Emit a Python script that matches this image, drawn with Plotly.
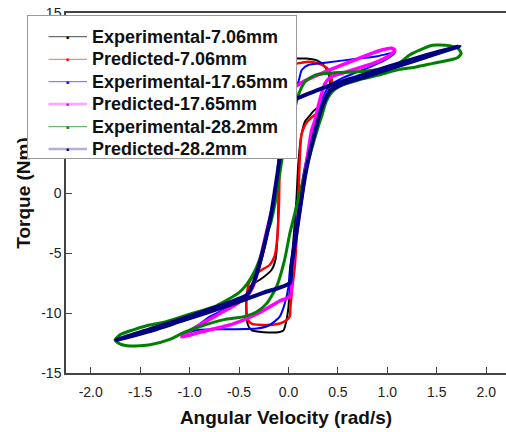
import plotly.graph_objects as go

# ---- data (x: angular velocity rad/s, y: torque Nm) ----
series_names = ["Experimental-7.06mm", "Predicted-7.06mm", "Experimental-17.65mm",
                "Predicted-17.65mm", "Experimental-28.2mm", "Predicted-28.2mm"]
series_colors = ["#000000", "#FF0000", "#0000FF", "#FF00FF", "#008000", "#000080"]
series_widths = [2, 2.5, 2, 3.5, 3, 4]

exp_706_x = [-0.02, 0.0, 0.013, 0.03, 0.055, 0.08, 0.1, 0.13, 0.17, 0.21, 0.25, 0.32, 0.39, 0.42, 0.41,
             0.37, 0.30, 0.18, 0.08, 0.0, -0.05, -0.08, -0.09, -0.095, -0.1, -0.11, -0.13, -0.17, -0.25,
             -0.34, -0.4, -0.425, -0.425, -0.41, -0.37, -0.25, -0.1, -0.05, -0.02]
exp_706_y = [-10.6, -9.5, -8.0, -6.0, -3.4, -0.6, 2.5, 4.8, 6.0, 6.4, 6.8, 7.3, 8.1, 9.0, 9.8,
             10.5, 11.0, 11.2, 11.2, 11.1, 10.6, 9.0, 6.0, 3.0, 0.0, -3.4, -5.5, -6.4, -7.0,
             -7.5, -7.9, -8.6, -10.0, -11.0, -11.45, -11.6, -11.6, -11.45, -10.6]

pre_706_x = [0.013, 0.02, 0.04, 0.064, 0.085, 0.1, 0.112, 0.13, 0.17, 0.22, 0.28, 0.33, 0.38, 0.42, 0.437,
             0.43, 0.39, 0.30, 0.20, 0.094, 0.0, -0.05, -0.075, -0.085, -0.09, -0.095, -0.11, -0.138,
             -0.19, -0.27, -0.35, -0.40, -0.42, -0.425, -0.41, -0.37, -0.22, -0.08, -0.02, 0.013]
pre_706_y = [-10.3, -9.5, -7.8, -6.1, -3.4, -0.6, 2.5, 4.8, 5.7, 6.2, 6.6, 7.1, 7.7, 8.5, 9.2,
             9.8, 10.4, 10.8, 10.94, 10.8, 10.6, 10.2, 8.5, 5.5, 2.5, -0.6, -3.4, -5.2,
             -6.0, -6.4, -6.9, -7.5, -8.5, -9.8, -10.6, -10.9, -11.0, -10.85, -10.6, -10.3]

exp_1765_x = [1.077, 1.0, 0.85, 0.7, 0.55, 0.42, 0.36, 0.31, 0.26, 0.2, 0.15, 0.114, 0.064, 0.013, 0.0,
              -0.037, -0.088, -0.19, -0.32, -0.6, -0.896, -1.0, -1.08, -1.0, -0.93, -0.795, -0.6, -0.45,
              -0.35, -0.29, -0.24, -0.19, -0.14, -0.12, -0.1, -0.07, -0.03, 0.03, 0.094, 0.134, 0.2,
              0.37, 0.707, 0.9, 1.077]
exp_1765_y = [11.7, 11.2, 10.6, 10.1, 9.6, 9.0, 8.2, 7.0, 5.5, 3.5, 1.5, -0.6, -3.4, -6.5, -7.8,
              -9.2, -10.3, -11.0, -11.3, -11.35, -11.4, -11.6, -11.83, -11.45, -11.1, -10.3, -9.5, -8.7,
              -7.6, -6.1, -4.5, -2.5, -0.6, 1.0, 3.0, 5.5, 7.8, 8.8, 9.14, 10.25, 10.67,
              10.86, 11.2, 11.4, 11.7]

pre_1765_x = [1.077, 1.01, 0.875, 0.707, 0.54, 0.437, 0.37, 0.336, 0.30, 0.27, 0.235, 0.2, 0.16, 0.13,
              0.08, 0.04, 0.03, 0.02, -0.09, -0.3, -0.56, -0.9, -1.0, -1.08, -1.02, -0.9, -0.75, -0.63,
              -0.5, -0.42, -0.35, -0.3, -0.26, -0.2, -0.14, -0.11, -0.09, -0.07, -0.03, 0.02, 0.094,
              0.168, 0.37, 0.55, 0.707, 0.909, 1.043, 1.077]
pre_1765_y = [11.9, 11.4, 10.86, 10.4, 9.97, 9.7, 9.14, 8.3, 7.2, 6.1, 5.25, 3.5, 1.2, -0.6,
              -3.4, -6.1, -7.5, -8.6, -9.0, -10.0, -10.9, -11.6, -11.85, -12.0, -11.6, -11.0, -10.3, -9.75,
              -9.1, -8.6, -7.6, -6.1, -4.6, -2.5, -0.6, 1.2, 3.0, 5.5, 7.5, 8.6, 9.0,
              9.36, 10.1, 10.7, 11.2, 11.83, 12.06, 11.9]

exp_282_x = [1.747, 1.713, 1.63, 1.495, 1.427, 1.326, 1.225, 1.124, 1.04, 0.909, 0.707, 0.47, 0.27, 0.168,
             0.10, 0.05, 0.0, -0.06, -0.09, -0.13, -0.18, -0.22, -0.27, -0.34, -0.42, -0.5, -0.73, -1.0,
             -1.23, -1.45, -1.57, -1.70, -1.755, -1.7, -1.6, -1.4, -1.2, -1.05, -0.85, -0.65, -0.45,
             -0.32, -0.22, -0.12, -0.04, 0.013, 0.064, 0.114, 0.165, 0.232, 0.30, 0.34, 0.38, 0.45,
             0.55, 0.7, 0.9, 1.124, 1.29, 1.46, 1.63, 1.713, 1.747]
exp_282_y = [11.64, 12.06, 12.28, 12.33, 12.25, 11.9, 11.5, 10.85, 10.55, 10.3, 10.1, 10.03, 9.83, 9.28,
             8.17, 6.5, 4.5, 3.0, 1.5, -0.6, -2.5, -3.4, -5.0, -6.5, -7.6, -8.3, -9.4, -10.1,
             -10.7, -11.1, -11.4, -11.8, -12.25, -12.6, -12.75, -12.65, -12.2, -11.6, -11.0, -10.55, -10.3,
             -9.9, -9.2, -7.8, -5.6, -3.4, -1.7, 0.0, 1.6, 3.6, 5.5, 6.5, 7.6, 8.5,
             9.0, 9.4, 9.8, 10.3, 10.5, 10.8, 11.08, 11.3, 11.64]

pre_282_x = [1.73, 1.4, 1.0, 0.7, 0.45, 0.3, 0.09, 0.0, -0.02, -0.04, -0.08, -0.13, -0.17, -0.22, -0.28,
             -0.34, -0.42, -0.56, -0.8, -1.1, -1.4, -1.74, -1.4, -1.1, -0.8, -0.5, -0.25, 0.013, 0.03,
             0.08, 0.13, 0.17, 0.22, 0.28, 0.34, 0.42, 0.55, 0.8, 1.1, 1.4, 1.73]
pre_282_y = [12.25, 11.5, 10.5, 9.7, 9.05, 8.6, 7.9, 7.6, 7.2, 6.1, 3.4, 0.58, -1.5, -3.5, -5.5,
             -7.2, -8.5, -9.0, -9.7, -10.55, -11.35, -12.25, -11.5, -10.7, -9.9, -9.05, -8.3, -7.5, -6.1,
             -3.4, -0.58, 1.5, 3.5, 5.5, 7.2, 8.5, 9.1, 9.75, 10.55, 11.35, 12.25]

series_x = [exp_706_x, pre_706_x, exp_1765_x, pre_1765_x, exp_282_x, pre_282_x]
series_y = [exp_706_y, pre_706_y, exp_1765_y, pre_1765_y, exp_282_y, pre_282_y]

x_tick_vals = [-2.0, -1.5, -1.0, -0.5, 0.0, 0.5, 1.0, 1.5, 2.0]
x_tick_text = ["-2.0", "-1.5", "-1.0", "-0.5", "0.0", "0.5", "1.0", "1.5", "2.0"]
y_tick_vals = [-15, -10, -5, 0, 5, 10, 15]
y_tick_text = ["-15", "-10", "-5", "0", "5", "10", "15"]

FONT = "Arial, Liberation Sans, sans-serif"

# plot-area geometry (pixels) used for placing the hand-built legend
L, T, W, H = 66, 13, 440, 360


def pxx(px):
    return (px - L) / W


def pxy(py):
    return (T + H - py) / H


fig = go.Figure()
for xs, ys, c, w, n in zip(series_x, series_y, series_colors, series_widths, series_names):
    fig.add_trace(go.Scatter(x=xs, y=ys, mode="lines", name=n, showlegend=False,
                             line=dict(color=c, width=w, shape="spline", smoothing=0.6)))

# legend (box drawn above the axis title, like the original)
ann = [dict(x=pxx(27), y=pxy(15), xref="paper", yref="paper", xanchor="left", yanchor="top",
            text=" ", width=266, height=140, bgcolor="white", bordercolor="#999999",
            borderwidth=1, borderpad=1, showarrow=False)]
row_py = [36.7, 59.3, 81.7, 104.0, 126.7, 149.0]
sym_width = [1, 1, 1, 2.5, 1, 2.5]
sym_opacity = [0.7, 0.6, 0.6, 0.35, 0.7, 0.3]
for name, c, py, sw, so in zip(series_names, series_colors, row_py, sym_width, sym_opacity):
    ann.append(dict(x=pxx(87), y=pxy(py), xref="paper", yref="paper", ax=-40, ay=0,
                    text="", showarrow=True, arrowhead=0, arrowwidth=sw, arrowcolor=c,
                    opacity=so, standoff=0, startstandoff=0))
    ann.append(dict(x=pxx(67), y=pxy(py), xref="paper", yref="paper", xanchor="center",
                    yanchor="middle", text="■", showarrow=False, borderpad=0,
                    font=dict(family=FONT, size=5, color=c)))
    ann.append(dict(x=pxx(91), y=pxy(py), xref="paper", yref="paper", xanchor="left",
                    yanchor="middle", text=name, showarrow=False, borderpad=0,
                    font=dict(family=FONT, size=18, color="#111111", weight="bold")))

fig.update_layout(
    width=506, height=432,
    margin=dict(l=L, r=0, t=T, b=432 - T - H),
    paper_bgcolor="white", plot_bgcolor="white",
    font=dict(family=FONT, color="#222"),
    showlegend=False,
    annotations=ann,
    xaxis=dict(range=[-2.25, 2.2], tickvals=x_tick_vals, ticktext=x_tick_text,
               ticks="inside", ticklen=6, tickcolor="#444", tickwidth=1.2,
               ticklabelstandoff=5,
               showline=True, linecolor="#444", linewidth=1.5, mirror=True,
               showgrid=False, zeroline=False,
               tickfont=dict(family=FONT, size=14, color="#222"),
               title=dict(text="Angular Velocity (rad/s)", standoff=12,
                          font=dict(family=FONT, size=19, color="#111", weight="bold"))),
    yaxis=dict(range=[-15, 15], tickvals=y_tick_vals, ticktext=y_tick_text,
               ticks="inside", ticklen=6, tickcolor="#444", tickwidth=1.2,
               showline=True, linecolor="#444", linewidth=1.5,
               showgrid=False, zeroline=False,
               tickfont=dict(family=FONT, size=14, color="#222"),
               title=dict(text="Torque (Nm)", standoff=6,
                          font=dict(family=FONT, size=19, color="#111", weight="bold"))),
)

fig.write_html("out.html")
